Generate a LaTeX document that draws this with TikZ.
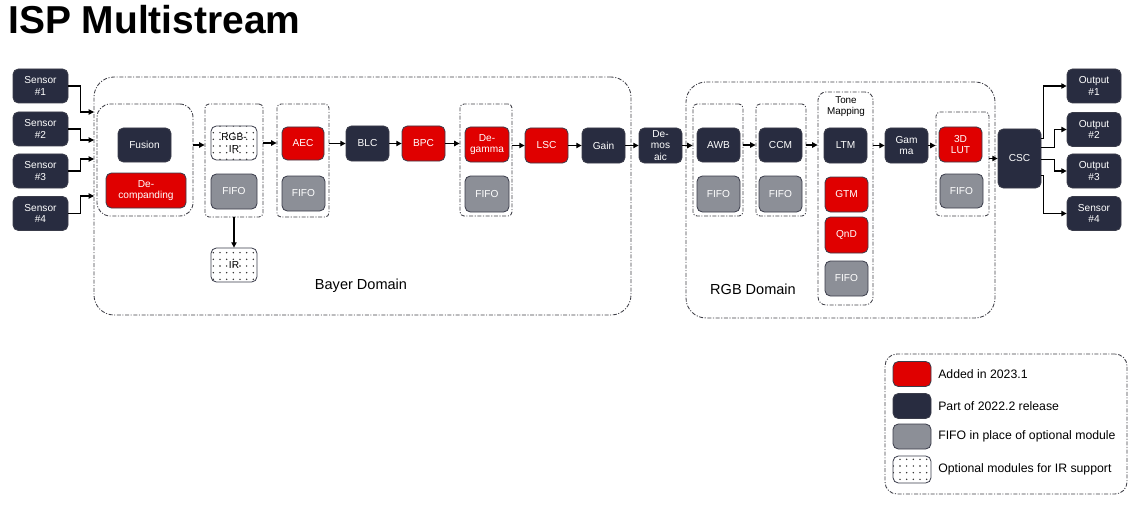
\documentclass[tikz,border=0pt]{standalone}
\usepackage{fontspec}
\setmainfont{Liberation Sans}
\usetikzlibrary{arrows.meta,patterns.meta,fit,calc}
\definecolor{dk}{HTML}{282C40}
\definecolor{rd}{HTML}{E00000}
\definecolor{gy}{HTML}{8C8F97}
\definecolor{bd}{HTML}{3A3C4A}
\definecolor{gline}{HTML}{404048}
\begin{document}
\begin{tikzpicture}[x=0.75pt,y=-0.75pt,
  sz/.style 2 args={minimum width=#1*0.75pt, minimum height=#2*0.75pt},
  mod/.style={draw=bd, line width=0.6pt, rounded corners=4pt, inner sep=0pt, align=center,
    font=\fontsize{7.6}{8.4}\selectfont, text=white, sz={43}{35}},
  dkmod/.style={mod, fill=dk},
  rdmod/.style={mod, fill=rd},
  fifo/.style={mod, fill=gy},
  irmod/.style={mod, text=black, fill=white, preaction={fill=white}, pattern={Dots[radius=0.6pt,distance=5pt]}, pattern color=black!85},
  grp/.style={draw=gline, line width=0.65pt, dash pattern=on 3pt off 1.2pt on 0.8pt off 1.2pt, rounded corners=3pt, inner sep=0pt},
  arr/.style={draw=black, line width=0.8pt, -{Triangle[length=4pt,width=4pt]}},
  lbl/.style={inner sep=0pt, font=\fontsize{10.9}{12}\selectfont, text=black},
  legtxt/.style={inner sep=0pt, anchor=west, font=\fontsize{9.2}{11}\selectfont, text=black}
]
\useasboundingbox (0,0) rectangle (1148,506);

% title
\node[anchor=base west, inner sep=0pt, font=\bfseries\fontsize{29.2}{32}\selectfont] (title) at (8,34) {ISP Multistream};

% domain boxes
\node[grp, rounded corners=15pt, fit={(94,77)(631,315)}] (bayer) {};
\node[lbl] (bayerlab) at (361,286) {Bayer Domain};
\node[grp, rounded corners=15pt, fit={(686,82)(995,318)}] (rgb) {};
\node[lbl] (rgblab) at (753,289) {RGB Domain};

% groups
\node[grp, rounded corners=10pt, fit={(97,104)(193,216)}] (g1) {};
\node[grp, fit={(205,104)(263,217)}] (g2) {};
\node[grp, fit={(277,104)(329,217)}] (g3) {};
\node[grp, fit={(460,104)(512,216)}] (g4) {};
\node[grp, fit={(693,104)(743,216)}] (g5) {};
\node[grp, fit={(756,104)(806,216)}] (g6) {};
\node[grp, rounded corners=6pt, fit={(818,92)(873,305)}] (g7) {};
\node[grp, fit={(936,112)(989,216)}] (g8) {};

% sensors
\node[dkmod, sz={55}{34}] (s1) at (40.5,86) {Sensor\\\#1};
\node[dkmod, sz={55}{34}] (s2) at (40.5,129) {Sensor\\\#2};
\node[dkmod, sz={55}{34}] (s3) at (40.5,171) {Sensor\\\#3};
\node[dkmod, sz={55}{34}] (s4) at (40.5,213.5) {Sensor\\\#4};
\coordinate (i1) at (94,112);
\coordinate (i2) at (94,140);
\coordinate (i3) at (94,159);
\coordinate (i4) at (94,196);

% bayer modules
\node[dkmod, sz={53}{34}] (fus) at (144.5,145) {Fusion};
\node[rdmod, sz={80}{35}] (decomp) at (146,190.5) {De-\\companding};
\node[irmod, sz={46}{34}] (rgbir) at (234,143) {RGB-\\IR};
\node[fifo, sz={46}{35}] (fifo1) at (234,191.5) {FIFO};
\node[irmod, sz={46}{34}] (ir) at (234,265) {IR};
\node[rdmod, sz={42}{33}] (aec) at (303,143.5) {AEC};
\node[fifo] (fifo2) at (303.5,193.5) {FIFO};
\node[dkmod] (blc) at (367.5,143.5) {BLC};
\node[rdmod] (bpc) at (423.5,143.5) {BPC};
\node[rdmod, sz={44}{35}] (degam) at (487,144.5) {De-\\gamma};
\node[fifo, sz={44}{36}] (fifo3) at (487,194) {FIFO};
\node[rdmod] (lsc) at (546.5,145.5) {LSC};
\node[dkmod] (gain) at (603.5,145.5) {Gain};
\node[dkmod] (demos) at (660.5,145.5) {De-\\mos\\aic};

% rgb modules
\node[dkmod, sz={43}{34}] (awb) at (718.5,145) {AWB};
\node[fifo, sz={43}{36}] (fifo4) at (718.5,194) {FIFO};
\node[dkmod, sz={43}{34}] (ccm) at (780.5,145) {CCM};
\node[fifo, sz={43}{36}] (fifo5) at (780.5,194) {FIFO};
\node[inner sep=0pt, align=center, font=\fontsize{7.4}{8.3}\selectfont] (tmlab) at (846,106.5) {Tone\\Mapping};
\node[dkmod] (ltm) at (845.5,145.5) {LTM};
\node[rdmod] (gtm) at (846.5,194.5) {GTM};
\node[rdmod, sz={43}{36}] (qnd) at (846.5,235) {QnD};
\node[fifo] (fifo6) at (846.5,278.5) {FIFO};
\node[dkmod] (gamma) at (906.5,145.5) {Gam\\ma};
\node[rdmod] (lut) at (960.5,144.5) {3D\\LUT};
\node[fifo, sz={43}{34}] (fifo7) at (961.5,191) {FIFO};
\node[dkmod, sz={43}{59}] (csc) at (1019.5,158.5) {CSC};

% outputs
\node[dkmod, sz={54}{34}] (o1) at (1094,86) {Output\\\#1};
\node[dkmod, sz={54}{34}] (o2) at (1094,129.5) {Output\\\#2};
\node[dkmod, sz={54}{34}] (o3) at (1094,171) {Output\\\#3};
\node[dkmod, sz={54}{34}] (o4) at (1094,213.5) {Sensor\\\#4};

% connectors
\draw[arr] (s1.east) -- ++(12,0) |- (i1);
\draw[arr] (s2.east) -- ++(12,0) |- (i2);
\draw[arr] (s3.east) -- ++(12,0) |- (i3);
\draw[arr] (s4.east) -- ++(12,0) |- (i4);
\draw[arr] (fus -| g1.east) -- (fus -| g2.west);
\draw[arr] (rgbir -| g2.east) -- (rgbir -| g3.west);
\draw[arr] (g2.south) -- (ir.north);
\draw[arr] (aec -| g3.east) -- (blc.west);
\draw[arr] (blc) -- (bpc);
\draw[arr] (bpc.east) -- (bpc -| g4.west);
\draw[arr] (g4.east |- lsc) -- (lsc.west);
\draw[arr] (lsc) -- (gain);
\draw[arr] (gain) -- (demos);
\draw[arr] (demos.east) -- (demos -| g5.west);
\draw[arr] (awb -| g5.east) -- (awb -| g6.west);
\draw[arr] (ccm -| g6.east) -- (ccm -| g7.west);
\draw[arr] (ltm -| g7.east) -- (gamma.west);
\draw[arr] (gamma.east) -- (gamma -| g8.west);
\draw[arr] (csc -| g8.east) -- (csc.west);
\draw[arr] ($(csc.north east)!0.17!(csc.south east)$) -- ++(2,0) |- (o1.west);
\draw[arr] ($(csc.north east)!0.31!(csc.south east)$) -- ++(13,0) |- (o2.west);
\draw[arr] ($(csc.north east)!0.51!(csc.south east)$) -- ++(13,0) |- (o3.west);
\draw[arr] ($(csc.north east)!0.78!(csc.south east)$) -- ++(2,0) |- (o4.west);

% legend
\node[grp, rounded corners=9pt, fit={(885,354)(1127,494)}] (leg) {};
\node[rdmod, sz={38}{25}] (lr) at (912,374) {};
\node[dkmod, sz={38}{25}] (ld) at (912,406) {};
\node[fifo, sz={38}{25}] (lg) at (912,436.5) {};
\node[irmod, sz={38}{27}] (li) at (912,469.5) {};
\node[legtxt] (tr) at (938,374) {Added in 2023.1};
\node[legtxt] (td) at (938,406) {Part of 2022.2 release};
\node[legtxt] (tg) at (938,436) {FIFO in place of optional module};
\node[legtxt] (ti) at (938,469) {Optional modules for IR support};
\end{tikzpicture}
\end{document}
